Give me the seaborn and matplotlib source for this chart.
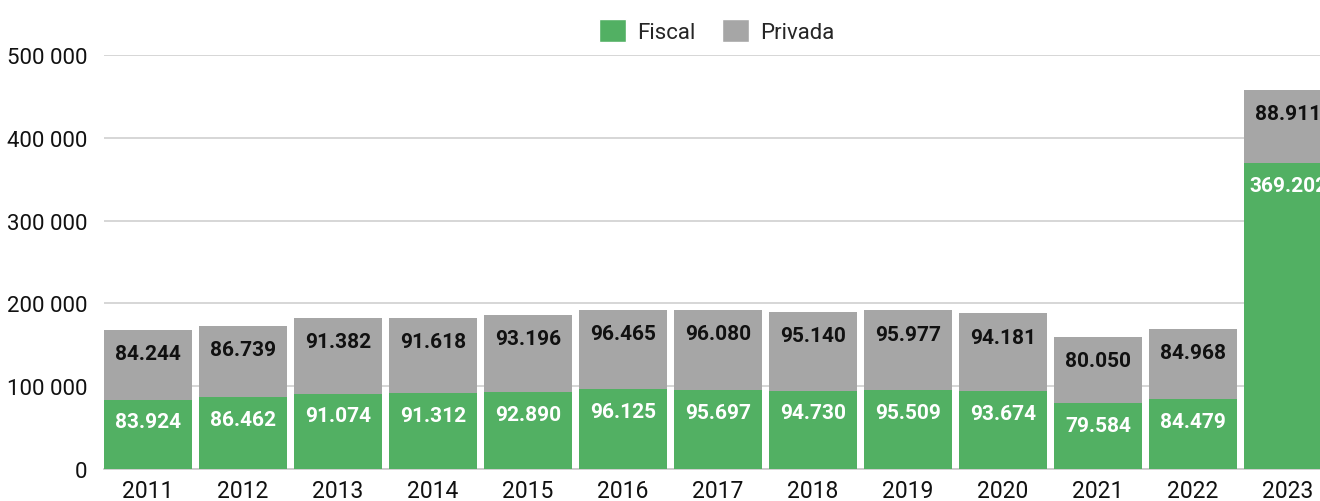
import matplotlib
matplotlib.use("Agg")
import matplotlib.pyplot as plt
from matplotlib.patches import Patch
from matplotlib.ticker import FuncFormatter, MultipleLocator
import seaborn as sns
import pandas as pd

years = ["2011", "2012", "2013", "2014", "2015", "2016", "2017",
         "2018", "2019", "2020", "2021", "2022", "2023"]
fiscal = [83924, 86462, 91074, 91312, 92890, 96125, 95697,
          94730, 95509, 93674, 79584, 84479, 369202]
privada = [84244, 86739, 91382, 91618, 93196, 96465, 96080,
           95140, 95977, 94181, 80050, 84968, 88911]

GREEN = "#52B063"
GRAY = "#A6A6A6"

sns.set_theme(style="white")
plt.rcParams["font.family"] = ["Roboto", "DejaVu Sans"]

df = pd.DataFrame({"year": years, "fiscal": fiscal, "privada": privada})
df["total"] = df["fiscal"] + df["privada"]

fig = plt.figure(figsize=(13.2, 5.02), dpi=100)
ax = fig.add_axes([104 / 1320, 32 / 502, 1231.5 / 1320, 414 / 502])

bar_w = 0.926
# stacked look: full total in gray, fiscal share drawn over it in green
sns.barplot(data=df, x="year", y="total", color=GRAY, saturation=1,
            width=bar_w, ax=ax, zorder=2, linewidth=0)
sns.barplot(data=df, x="year", y="fiscal", color=GREEN, saturation=1,
            width=bar_w, ax=ax, zorder=3, linewidth=0)

ax.set_xlim(-0.463, 12.5)
ax.set_ylim(0, 500000)
ax.yaxis.set_major_locator(MultipleLocator(100000))
ax.yaxis.set_major_formatter(
    FuncFormatter(lambda v, _: f"{int(v):,}".replace(",", " ")))
ax.grid(axis="y", color="#D0D0D0", linewidth=1.2, zorder=0)
ax.set_axisbelow(True)
for s in ["top", "right", "left"]:
    ax.spines[s].set_visible(False)
ax.spines["bottom"].set_color("#C8C8C8")
ax.spines["bottom"].set_linewidth(1.2)
ax.set_xlabel("")
ax.set_ylabel("")
ax.tick_params(axis="y", length=0, pad=12, labelsize=16, labelcolor="#111111")
ax.tick_params(axis="x", length=0, pad=7, labelsize=16.5, labelcolor="#111111")

def fmt(v):
    return f"{v:,}".replace(",", ".")

for i, (f, p) in enumerate(zip(fiscal, privada)):
    ax.annotate(fmt(p), (i, f + p), xytext=(0, -21), textcoords="offset points",
                ha="center", va="baseline", fontsize=15, fontweight="bold",
                color="#111111", zorder=5)
    ax.annotate(fmt(f), (i, f), xytext=(0, -20), textcoords="offset points",
                ha="center", va="baseline", fontsize=15, fontweight="bold",
                color="white", zorder=5)

handles = [Patch(facecolor=GREEN, label="Fiscal"),
           Patch(facecolor=GRAY, label="Privada")]
fig.legend(handles=handles, loc="upper center", bbox_to_anchor=(0.543, 1.0),
           ncol=2, frameon=False, fontsize=16, handlelength=1.2,
           handleheight=1.2, handletextpad=0.5, columnspacing=1.2)

fig.savefig("out.png", dpi=100)
